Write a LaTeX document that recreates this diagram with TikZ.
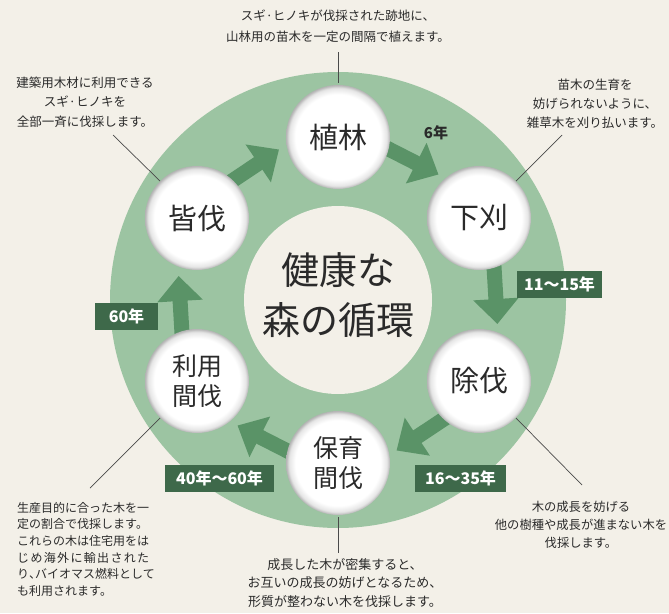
\documentclass[tikz,border=0pt]{standalone}
\usepackage{fontspec}
\setmainfont{Noto Sans CJK JP}
\usetikzlibrary{arrows.meta}
\definecolor{bgc}{HTML}{F3F0E8}
\definecolor{ringc}{HTML}{9CC4A2}
\definecolor{arrc}{HTML}{5A9367}
\definecolor{boxc}{HTML}{3E694A}
\definecolor{txtc}{HTML}{2A2A2A}
\pgfdeclareradialshading{discshade}{\pgfpoint{0bp}{0bp}}{color(0bp)=(white); color(20.5bp)=(white); color(23.5bp)=(black!10); color(25bp)=(black!30); color(50bp)=(black!30)}
\begin{document}
\begin{tikzpicture}[x=1pt,y=-1pt,
  disc/.style={circle, minimum size=104pt, inner sep=0pt, shade, shading=discshade, text=txtc, align=center},
  flow/.style={line width=15pt, draw=arrc, -{Triangle[width=44pt,length=25pt]}},
  yearbox/.style={fill=boxc, text=white, font=\bfseries\fontsize{16}{16}\selectfont, minimum height=27pt, inner sep=0pt},
  note/.style={text=txtc, align=center, inner sep=0pt},
  lead/.style={draw=txtc!85, line width=0.7pt}
]
\useasboundingbox (0,0) rectangle (669,613);
\fill[bgc] (0,0) rectangle (669,613);
% ring
\coordinate (O) at (338,300);
\fill[ringc] (O) circle (228);
\fill[bgc] (O) circle (94);

% arrow end points
\coordinate (a1s) at (224.2,186.2); \coordinate (a1e) at (279.0,149.5);
\coordinate (a2s) at (379.7,144.5); \coordinate (a2e) at (438.5,174.5);
\coordinate (a3s) at (493.5,258.3); \coordinate (a3e) at (497.4,324.0);
\coordinate (a4s) at (451.8,413.8); \coordinate (a4e) at (396.5,450.5);
\coordinate (a5s) at (296.3,455.5); \coordinate (a5e) at (237.5,425.5);
\coordinate (a6s) at (182.5,341.7); \coordinate (a6e) at (178.6,276.0);
\foreach \i in {1,...,6} {\draw[flow] (a\i s) -- (a\i e);}

% circles
\node[disc, font=\fontsize{29}{29}\selectfont] (c1) at (338,137) {植林};
\node[disc, font=\fontsize{29}{29}\selectfont] (c2) at (479,218) {下刈};
\node[disc, font=\fontsize{29}{29}\selectfont] (c3) at (479,381) {除伐};
\node[disc, font=\fontsize{25}{30}\selectfont] (c4) at (338,463) {保育\\間伐};
\node[disc, font=\fontsize{25}{30}\selectfont] (c5) at (197,381) {利用\\間伐};
\node[disc, font=\fontsize{29}{29}\selectfont] (c6) at (197,218) {皆伐};

% title
\node[note, font=\fontsize{38}{50}\selectfont] (title) at (338,295) {健康な\\森の循環};

% year labels
\node[font=\bfseries\fontsize{15}{15}\selectfont, text=txtc] (y1) at (436,133) {6年};
\node[yearbox, minimum width=85pt] (y2) at (559.5,284) {11〜15年};
\node[yearbox, minimum width=91pt] (y3) at (460.5,478.5) {16〜35年};
\node[yearbox, minimum width=109pt] (y4) at (219.5,478.5) {40年〜60年};
\node[yearbox, minimum width=63pt] (y5) at (126.5,316) {60年};

% notes
\node[note, font=\fontsize{12.5}{21.5}\selectfont] (tTop) at (338,26) {スギ·ヒノキが伐採された跡地に、\\山林用の苗木を一定の間隔で植えます。};
\node[note, font=\fontsize{12.5}{19.5}\selectfont] (tTL) at (85,102) {建築用木材に利用できる\\スギ·ヒノキを\\全部一斉に伐採します。};
\node[note, font=\fontsize{12.5}{19}\selectfont] (tTR) at (595,104) {苗木の生育を\\妨げられないように、\\雑草木を刈り払います。};
\node[note, align=left, anchor=north west, font=\fontsize{12}{16.6}\selectfont] (tBL) at (17,502) {生産目的に合った木を一\\定の割合で伐採します。\\これらの木は住宅用をは\\\makebox[11em][s]{じ\hfil め\hfil 海\hfil 外\hfil に\hfil 輸\hfil 出\hfil さ\hfil れ\hfil た}\\り\makebox[0.5em][l]{、}バイオマス燃料として\\も利用されます。};
\node[note, font=\fontsize{13}{18.5}\selectfont] (tBC) at (345,583) {成長した木が密集すると、\\お互いの成長の妨げとなるため、\\形質が整わない木を伐採します。};
\node[note, font=\fontsize{12.3}{18}\selectfont] (tBR) at (581,525) {木の成長を妨げる\\他の樹種や成長が進まない木を\\伐採します。};

% leader lines
\coordinate (k1) at (338,52);
\coordinate (k2) at (562,135);
\coordinate (k3) at (582,485);
\coordinate (k4) at (338,553);
\coordinate (k5) at (90,488);
\coordinate (k6) at (113,135);
\draw[lead, shorten >=2pt] (k1) -- (c1.north);
\draw[lead] (k2) -- (c2.45);
\draw[lead] (k3) -- (c3.-45);
\draw[lead, shorten >=2pt] (k4) -- (c4.south);
\draw[lead] (k5) -- (c5.225);
\draw[lead] (k6) -- (c6.135);
\end{tikzpicture}
\end{document}
